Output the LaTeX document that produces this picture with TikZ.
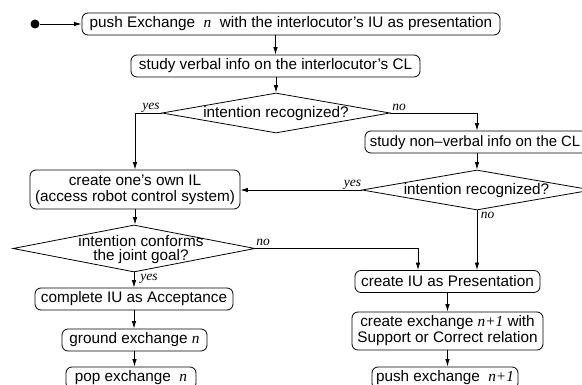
\documentclass[tikz,border=0pt]{standalone}
\usepackage{fontspec}
\setmainfont{Liberation Sans}
\newfontfamily\tms{Liberation Serif}
\usetikzlibrary{arrows.meta,shapes.geometric}
\newcommand{\vn}[1]{{\tms\itshape #1}}
\begin{document}
\begin{tikzpicture}[x=1pt,y=-1pt,
  box/.style={draw, rounded corners=6pt, line width=0.8pt, inner sep=0pt, align=center,
    font=\fontsize{15.3}{16}\selectfont},
  dia/.style={draw, diamond, line width=0.8pt, inner sep=0pt},
  diatext/.style={inner sep=0pt, align=center, font=\fontsize{15.3}{14}\selectfont},
  lbl/.style={inner sep=0pt, anchor=base, font=\fontsize{13.5}{14}\selectfont\tms\itshape},
  arr/.style={-{Latex[length=7.5pt,width=4.5pt]}, line width=0.8pt},
  ln/.style={line width=0.8pt}]
\useasboundingbox (0,0) rectangle (582,385);
\clip (0,0) rectangle (582,385);

% start
\node[circle, fill=black, inner sep=0pt, minimum size=9pt] (start) at (35,24) {};

% boxes
\node[box, minimum width=418pt, minimum height=22pt] (b1) at (291,24)
  {push Exchange \ \vn{n}\ \ with the interlocutor's IU as presentation};
\node[box, minimum width=289pt, minimum height=22pt] (b2) at (275.5,66)
  {study verbal info on the interlocutor's CL};
\node[dia, minimum width=228pt, minimum height=40pt] (d1) at (276,113) {};
\node[diatext] (d1t) at (276,113.5) {intention recognized?};

\node[box, minimum width=224pt, minimum height=22pt] (b4) at (477,142) {};
\node[diatext, anchor=east, font=\fontsize{14.9}{16}\selectfont] (b4t) at (580.5,142.5)
  {study non--verbal info on the CL};
\node[dia, minimum width=230pt, minimum height=40pt] (d2) at (477,190) {};
\node[diatext] (d2t) at (476.5,190.5) {intention recognized?};

\node[box, minimum width=210pt, minimum height=39pt] (b3) at (135,189.5)
  {create one's own IL\\(access robot control system)};
\node[dia, minimum width=242pt, minimum height=47pt] (d3) at (134,248.5) {};
\node[diatext] (d3t) at (141,250) {intention conforms\\the joint goal?};

\node[box, minimum width=198pt, minimum height=22pt] (b5) at (134,299)
  {complete IU as Acceptance};
\node[box, minimum width=145pt, minimum height=22pt] (b6) at (134.5,340)
  {ground exchange \vn{n}};
\node[box, minimum width=130pt, minimum height=22pt] (b7) at (131,378)
  {pop exchange \ \vn{n}};

\node[box, minimum width=185pt, minimum height=22pt] (r1) at (447.5,281.5)
  {create IU as Presentation};
\node[box, minimum width=191pt, minimum height=38pt] (r2) at (447.5,331)
  {create exchange \vn{n+1} with\\Support or Correct relation};
\node[box, minimum width=146pt, minimum height=22pt] (r3) at (445,378)
  {push exchange \ \vn{n+1}};

\coordinate (nojoin) at ([xshift=-29.5pt]r1.north);

% connectors
\draw[arr] (start) -- (start -| b1.west);
\draw[arr] (b1.south -| b2.north) -- (b2.north);
\draw[arr] (b2.south -| d1.north) -- (d1.north);
\draw[arr] (d1.west) -| (b3.north);
\draw[arr] (d1.east) -| (b4.north);
\draw[arr] (b4.south) -- (d2.north);
\draw[arr] (d2.west) -- (d2.west -| b3.east);
\draw[arr] (d2.south) -- (d2.south |- r1.north);
\draw[arr] (b3.south) -- (b3.south |- d3.north);
\draw[arr] (d3.east) -| (nojoin);
\draw[arr] (d3.south) -- (d3.south |- b5.north);
\draw[arr] (b5.south) -- (b5.south |- b6.north);
\draw[arr] (b6.south) -- (b6.south |- b7.north);
\draw[arr] (r1.south) -- (r1.south |- r2.north);
\draw[arr] (r2.south) -- (r2.south |- r3.north);

% labels
\node[lbl] (l1) at (151,110) {yes};
\node[lbl] (l2) at (399,111) {no};
\node[lbl] (l3) at (352.5,187) {yes};
\node[lbl] (l4) at (487.5,219) {no};
\node[lbl] (l5) at (263,246) {no};
\node[lbl] (l6) at (149,281) {yes};
\end{tikzpicture}
\end{document}
